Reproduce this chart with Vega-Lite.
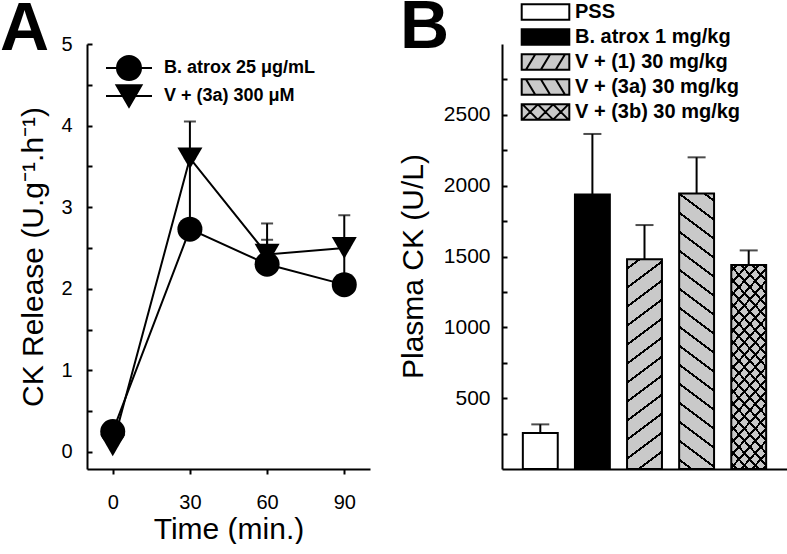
{
  "$schema": "https://vega.github.io/schema/vega-lite/v6.json",
  "padding": {"left": 0, "top": -7, "right": 0, "bottom": 0},
  "spacing": 28,
  "resolve": {"scale": {"fill": "independent", "stroke": "independent"}, "legend": {"fill": "independent", "stroke": "independent"}},
  "config": {
    "font": "Liberation Sans",
    "view": {"stroke": null},
    "axis": {"domainColor": "black", "domainWidth": 2, "tickColor": "black", "tickWidth": 2, "labelColor": "black", "titleColor": "black", "titleFontWeight": "normal", "grid": false, "labelFont": "Liberation Sans", "titleFont": "Liberation Sans"},
    "title": {"color": "black", "font": "Liberation Sans"},
    "legend": {"labelColor": "black", "labelFont": "Liberation Sans"}
  },
  "hconcat": [
    {
      "width": 283,
      "height": 425,
      "title": {"text": "A", "fontSize": 68, "fontWeight": "bold", "anchor": "start", "frame": "group", "dx": -87, "dy": 84, "offset": 0, "baseline": "alphabetic"},
      "data": {"values": [
        {"time": 0, "series": "B. atrox 25 μg/mL", "value": 0.25},
        {"time": 30, "series": "B. atrox 25 μg/mL", "value": 2.73, "upper": 3.6},
        {"time": 60, "series": "B. atrox 25 μg/mL", "value": 2.3, "upper": 2.6},
        {"time": 90, "series": "B. atrox 25 μg/mL", "value": 2.05, "upper": 2.5},
        {"time": 0, "series": "V + (3a) 300 μM", "value": 0.08},
        {"time": 30, "series": "V + (3a) 300 μM", "value": 3.6, "upper": 4.05},
        {"time": 60, "series": "V + (3a) 300 μM", "value": 2.42, "upper": 2.8},
        {"time": 90, "series": "V + (3a) 300 μM", "value": 2.5, "upper": 2.9}
      ]},
      "encoding": {
        "x": {"field": "time", "type": "quantitative", "title": "Time (min.)",
          "scale": {"domain": [-10, 100], "nice": false, "zero": false},
          "axis": {"values": [0, 30, 60, 90], "tickSize": 5, "labelFontSize": 20, "labelPadding": 18, "titleFontSize": 30, "titlePadding": 2, "labelFlush": false}},
        "y": {"field": "value", "type": "quantitative", "title": "CK Release (U.g⁻¹.h⁻¹)",
          "scale": {"domain": [-0.21, 5], "nice": false, "zero": false},
          "axis": {"values": [0, 0.5, 1, 1.5, 2, 2.5, 3, 3.5, 4, 4.5, 5], "labelExpr": "datum.value % 1 === 0 ? format(datum.value, 'd') : ''", "tickSize": -5, "labelPadding": 20, "labelFontSize": 20, "titleFontSize": 30, "titlePadding": 12, "labelFlush": false}}
      },
      "layer": [
        {"transform": [{"filter": "isValid(datum.upper)"}], "mark": {"type": "rule", "strokeWidth": 2},
          "encoding": {"y2": {"field": "upper"},
            "stroke": {"field": "series", "type": "nominal",
              "scale": {"domain": ["B. atrox 25 μg/mL", "V + (3a) 300 μM"], "range": ["black", "black"]},
              "legend": {"orient": "none", "legendX": 31, "legendY": 13, "title": null, "direction": "vertical", "padding": 0,
                "labelFontSize": 18, "labelFontWeight": "bold", "labelLimit": 300, "labelOffset": 24, "rowPadding": -3,
                "symbolSize": 400, "symbolStrokeWidth": 2, "symbolStrokeColor": "black", "symbolFillColor": "black",
                "encode": {"symbols": {"update": {
                  "shape": [{"test": "datum.value === 'B. atrox 25 μg/mL'", "value": "M-2.3,0H-1.2A1.2,1.2,0,1,1,1.2,0H2.3M1.2,0A1.2,1.2,0,1,1,-1.2,0Z"}, {"value": "M-2.3,0H2.3M-1.25,-1.08H1.25L0,1.08Z"}],
                  "fill": {"value": "black"}, "stroke": {"value": "black"}, "strokeWidth": {"value": 2}, "size": {"value": 400}, "opacity": {"value": 1}}}}}}}},
        {"transform": [{"filter": "isValid(datum.upper)"}], "mark": {"type": "tick", "orient": "horizontal", "color": "black", "size": 12, "thickness": 2}, "encoding": {"y": {"field": "upper", "type": "quantitative", "title": "CK Release (U.g⁻¹.h⁻¹)"}}},
        {"mark": {"type": "line", "stroke": "black", "strokeWidth": 2}, "encoding": {"detail": {"field": "series"}}},
        {"mark": {"type": "point", "filled": true, "color": "black", "size": 625, "opacity": 1, "strokeWidth": 0},
          "encoding": {
            "shape": {"condition": {"test": "datum.series === 'V + (3a) 300 μM'", "value": "triangle-down"}, "value": "circle"}}}
      ]
    },
    {
      "width": 285,
      "height": 425,
      "title": {"text": "B", "fontSize": 68, "fontWeight": "bold", "anchor": "start", "frame": "group", "dx": -102, "dy": 113.5, "offset": 0, "baseline": "alphabetic"},
      "data": {"values": [
        {"group": "PSS", "value": 255, "err": 315},
        {"group": "B. atrox 1 mg/kg", "value": 1938, "err": 2365},
        {"group": "V + (1) 30 mg/kg", "value": 1480, "err": 1722},
        {"group": "V + (3a) 30 mg/kg", "value": 1945, "err": 2200},
        {"group": "V + (3b) 30 mg/kg", "value": 1440, "err": 1543}
      ]},
      "encoding": {
        "x": {"field": "group", "type": "nominal", "title": null,
          "scale": {"domain": ["PSS", "B. atrox 1 mg/kg", "V + (1) 30 mg/kg", "V + (3a) 30 mg/kg", "V + (3b) 30 mg/kg"], "paddingInner": 0.33, "paddingOuter": 0.4},
          "axis": {"labels": false, "ticks": false, "title": null, "domainWidth": 2}},
        "y": {"field": "value", "type": "quantitative", "title": "Plasma CK (U/L)",
          "scale": {"domain": [0, 3000], "nice": false},
          "axis": {"values": [250, 500, 750, 1000, 1250, 1500, 1750, 2000, 2250, 2500, 2750], "labelExpr": "datum.value % 500 === 0 ? format(datum.value, 'd') : ''", "tickSize": -5, "labelPadding": 17, "labelFontSize": 21, "titleFontSize": 30, "titlePadding": 15, "titleY": 222, "labelFlush": false}}
      },
      "layer": [
        {"mark": {"type": "rule", "stroke": "black", "strokeWidth": 2}, "encoding": {"y2": {"field": "err"}}},
        {"mark": {"type": "tick", "orient": "horizontal", "color": "black", "size": 18, "thickness": 2}, "encoding": {"y": {"field": "err", "type": "quantitative", "title": "Plasma CK (U/L)"}}},
        {"mark": {"type": "bar", "stroke": "black", "strokeWidth": 2},
          "encoding": {"fill": {"field": "group", "type": "nominal",
            "scale": {"domain": ["PSS", "B. atrox 1 mg/kg", "V + (1) 30 mg/kg", "V + (3a) 30 mg/kg", "V + (3b) 30 mg/kg"], "range": ["white", "black", "#c9c9c9", "#c9c9c9", "#c9c9c9"]},
            "legend": {"orient": "none", "legendX": 33.5, "legendY": -42, "title": null, "direction": "vertical", "padding": 0,
              "labelFontSize": 20, "labelFontWeight": "bold", "labelLimit": 300, "labelOffset": 19.5, "rowPadding": 1,
              "symbolSize": 289, "symbolStrokeWidth": 2, "symbolStrokeColor": "black",
              "encode": {"symbols": {"update": {
                "shape": [
                  {"test": "datum.value === 'V + (1) 30 mg/kg'", "value": "M-2.8,-0.9H2.8V0.9H-2.8ZM-2.3,0.9L-1.2,-0.9M-0.55,0.9L0.55,-0.9M1.2,0.9L2.3,-0.9"},
                  {"test": "datum.value === 'V + (3a) 30 mg/kg'", "value": "M-2.8,-0.9H2.8V0.9H-2.8ZM-2.3,-0.9L-1.2,0.9M-0.55,-0.9L0.55,0.9M1.2,-0.9L2.3,0.9"},
                  {"test": "datum.value === 'V + (3b) 30 mg/kg'", "value": "M-2.8,-0.9H2.8V0.9H-2.8ZM-2.7,0.9L-0.9,-0.9M-2.7,-0.9L-0.9,0.9M-0.9,0.9L0.9,-0.9M-0.9,-0.9L0.9,0.9M0.9,0.9L2.7,-0.9M0.9,-0.9L2.7,0.9"},
                  {"value": "M-2.8,-0.9H2.8V0.9H-2.8Z"}],
                "stroke": {"value": "black"}, "strokeWidth": {"value": 2}, "size": {"value": 289}, "opacity": {"value": 1}}}}}}}},
        {"transform": [{"filter": "datum.group === 'V + (1) 30 mg/kg'"}],
          "mark": {"type": "bar", "strokeWidth": 0, "fill": {"gradient": "linear", "x1": 0, "y1": 0, "x2": 0.18807, "y2": 1.50244, "stops": [
            {"offset": 0, "color": "transparent"},
            {"offset": 0.02578, "color": "transparent"}, {"offset": 0.02578, "color": "black"}, {"offset": 0.03359, "color": "black"}, {"offset": 0.03359, "color": "transparent"},
            {"offset": 0.08516, "color": "transparent"}, {"offset": 0.08516, "color": "black"}, {"offset": 0.09297, "color": "black"}, {"offset": 0.09297, "color": "transparent"},
            {"offset": 0.14453, "color": "transparent"}, {"offset": 0.14453, "color": "black"}, {"offset": 0.15234, "color": "black"}, {"offset": 0.15234, "color": "transparent"},
            {"offset": 0.20391, "color": "transparent"}, {"offset": 0.20391, "color": "black"}, {"offset": 0.21172, "color": "black"}, {"offset": 0.21172, "color": "transparent"},
            {"offset": 0.26328, "color": "transparent"}, {"offset": 0.26328, "color": "black"}, {"offset": 0.27109, "color": "black"}, {"offset": 0.27109, "color": "transparent"},
            {"offset": 0.32266, "color": "transparent"}, {"offset": 0.32266, "color": "black"}, {"offset": 0.33047, "color": "black"}, {"offset": 0.33047, "color": "transparent"},
            {"offset": 0.38203, "color": "transparent"}, {"offset": 0.38203, "color": "black"}, {"offset": 0.38984, "color": "black"}, {"offset": 0.38984, "color": "transparent"},
            {"offset": 0.44141, "color": "transparent"}, {"offset": 0.44141, "color": "black"}, {"offset": 0.44922, "color": "black"}, {"offset": 0.44922, "color": "transparent"},
            {"offset": 0.50078, "color": "transparent"}, {"offset": 0.50078, "color": "black"}, {"offset": 0.50859, "color": "black"}, {"offset": 0.50859, "color": "transparent"},
            {"offset": 0.56016, "color": "transparent"}, {"offset": 0.56016, "color": "black"}, {"offset": 0.56797, "color": "black"}, {"offset": 0.56797, "color": "transparent"},
            {"offset": 0.61953, "color": "transparent"}, {"offset": 0.61953, "color": "black"}, {"offset": 0.62734, "color": "black"}, {"offset": 0.62734, "color": "transparent"},
            {"offset": 0.67891, "color": "transparent"}, {"offset": 0.67891, "color": "black"}, {"offset": 0.68672, "color": "black"}, {"offset": 0.68672, "color": "transparent"},
            {"offset": 0.73828, "color": "transparent"}, {"offset": 0.73828, "color": "black"}, {"offset": 0.74609, "color": "black"}, {"offset": 0.74609, "color": "transparent"},
            {"offset": 0.79766, "color": "transparent"}, {"offset": 0.79766, "color": "black"}, {"offset": 0.80547, "color": "black"}, {"offset": 0.80547, "color": "transparent"},
            {"offset": 0.85703, "color": "transparent"}, {"offset": 0.85703, "color": "black"}, {"offset": 0.86484, "color": "black"}, {"offset": 0.86484, "color": "transparent"},
            {"offset": 0.91641, "color": "transparent"}, {"offset": 0.91641, "color": "black"}, {"offset": 0.92422, "color": "black"}, {"offset": 0.92422, "color": "transparent"},
            {"offset": 0.97578, "color": "transparent"}, {"offset": 0.97578, "color": "black"}, {"offset": 0.98359, "color": "black"}, {"offset": 0.98359, "color": "transparent"},
            {"offset": 1, "color": "transparent"}]}}},
        {"transform": [{"filter": "datum.group === 'V + (3a) 30 mg/kg'"}],
          "mark": {"type": "bar", "strokeWidth": 0, "fill": {"gradient": "linear", "x1": 0, "y1": 1, "x2": 0.10964, "y2": -0.15093, "stops": [
            {"offset": 0, "color": "transparent"},
            {"offset": 0.02578, "color": "transparent"}, {"offset": 0.02578, "color": "black"}, {"offset": 0.03359, "color": "black"}, {"offset": 0.03359, "color": "transparent"},
            {"offset": 0.08516, "color": "transparent"}, {"offset": 0.08516, "color": "black"}, {"offset": 0.09297, "color": "black"}, {"offset": 0.09297, "color": "transparent"},
            {"offset": 0.14453, "color": "transparent"}, {"offset": 0.14453, "color": "black"}, {"offset": 0.15234, "color": "black"}, {"offset": 0.15234, "color": "transparent"},
            {"offset": 0.20391, "color": "transparent"}, {"offset": 0.20391, "color": "black"}, {"offset": 0.21172, "color": "black"}, {"offset": 0.21172, "color": "transparent"},
            {"offset": 0.26328, "color": "transparent"}, {"offset": 0.26328, "color": "black"}, {"offset": 0.27109, "color": "black"}, {"offset": 0.27109, "color": "transparent"},
            {"offset": 0.32266, "color": "transparent"}, {"offset": 0.32266, "color": "black"}, {"offset": 0.33047, "color": "black"}, {"offset": 0.33047, "color": "transparent"},
            {"offset": 0.38203, "color": "transparent"}, {"offset": 0.38203, "color": "black"}, {"offset": 0.38984, "color": "black"}, {"offset": 0.38984, "color": "transparent"},
            {"offset": 0.44141, "color": "transparent"}, {"offset": 0.44141, "color": "black"}, {"offset": 0.44922, "color": "black"}, {"offset": 0.44922, "color": "transparent"},
            {"offset": 0.50078, "color": "transparent"}, {"offset": 0.50078, "color": "black"}, {"offset": 0.50859, "color": "black"}, {"offset": 0.50859, "color": "transparent"},
            {"offset": 0.56016, "color": "transparent"}, {"offset": 0.56016, "color": "black"}, {"offset": 0.56797, "color": "black"}, {"offset": 0.56797, "color": "transparent"},
            {"offset": 0.61953, "color": "transparent"}, {"offset": 0.61953, "color": "black"}, {"offset": 0.62734, "color": "black"}, {"offset": 0.62734, "color": "transparent"},
            {"offset": 0.67891, "color": "transparent"}, {"offset": 0.67891, "color": "black"}, {"offset": 0.68672, "color": "black"}, {"offset": 0.68672, "color": "transparent"},
            {"offset": 0.73828, "color": "transparent"}, {"offset": 0.73828, "color": "black"}, {"offset": 0.74609, "color": "black"}, {"offset": 0.74609, "color": "transparent"},
            {"offset": 0.79766, "color": "transparent"}, {"offset": 0.79766, "color": "black"}, {"offset": 0.80547, "color": "black"}, {"offset": 0.80547, "color": "transparent"},
            {"offset": 0.85703, "color": "transparent"}, {"offset": 0.85703, "color": "black"}, {"offset": 0.86484, "color": "black"}, {"offset": 0.86484, "color": "transparent"},
            {"offset": 0.91641, "color": "transparent"}, {"offset": 0.91641, "color": "black"}, {"offset": 0.92422, "color": "black"}, {"offset": 0.92422, "color": "transparent"},
            {"offset": 0.97578, "color": "transparent"}, {"offset": 0.97578, "color": "black"}, {"offset": 0.98359, "color": "black"}, {"offset": 0.98359, "color": "transparent"},
            {"offset": 1, "color": "transparent"}]}}},
        {"transform": [{"filter": "datum.group === 'V + (3b) 30 mg/kg'"}],
          "mark": {"type": "bar", "strokeWidth": 0, "fill": {"gradient": "linear", "x1": 0, "y1": 0, "x2": 0.2271, "y2": 1.18186, "stops": [
            {"offset": 0, "color": "transparent"},
            {"offset": 0.018, "color": "transparent"}, {"offset": 0.018, "color": "black"}, {"offset": 0.03, "color": "black"}, {"offset": 0.03, "color": "transparent"},
            {"offset": 0.0672, "color": "transparent"}, {"offset": 0.0672, "color": "black"}, {"offset": 0.0792, "color": "black"}, {"offset": 0.0792, "color": "transparent"},
            {"offset": 0.1164, "color": "transparent"}, {"offset": 0.1164, "color": "black"}, {"offset": 0.1284, "color": "black"}, {"offset": 0.1284, "color": "transparent"},
            {"offset": 0.1656, "color": "transparent"}, {"offset": 0.1656, "color": "black"}, {"offset": 0.1776, "color": "black"}, {"offset": 0.1776, "color": "transparent"},
            {"offset": 0.2148, "color": "transparent"}, {"offset": 0.2148, "color": "black"}, {"offset": 0.2268, "color": "black"}, {"offset": 0.2268, "color": "transparent"},
            {"offset": 0.264, "color": "transparent"}, {"offset": 0.264, "color": "black"}, {"offset": 0.276, "color": "black"}, {"offset": 0.276, "color": "transparent"},
            {"offset": 0.3132, "color": "transparent"}, {"offset": 0.3132, "color": "black"}, {"offset": 0.3252, "color": "black"}, {"offset": 0.3252, "color": "transparent"},
            {"offset": 0.3624, "color": "transparent"}, {"offset": 0.3624, "color": "black"}, {"offset": 0.3744, "color": "black"}, {"offset": 0.3744, "color": "transparent"},
            {"offset": 0.4116, "color": "transparent"}, {"offset": 0.4116, "color": "black"}, {"offset": 0.4236, "color": "black"}, {"offset": 0.4236, "color": "transparent"},
            {"offset": 0.4608, "color": "transparent"}, {"offset": 0.4608, "color": "black"}, {"offset": 0.4728, "color": "black"}, {"offset": 0.4728, "color": "transparent"},
            {"offset": 0.51, "color": "transparent"}, {"offset": 0.51, "color": "black"}, {"offset": 0.522, "color": "black"}, {"offset": 0.522, "color": "transparent"},
            {"offset": 0.5592, "color": "transparent"}, {"offset": 0.5592, "color": "black"}, {"offset": 0.5712, "color": "black"}, {"offset": 0.5712, "color": "transparent"},
            {"offset": 0.6084, "color": "transparent"}, {"offset": 0.6084, "color": "black"}, {"offset": 0.6204, "color": "black"}, {"offset": 0.6204, "color": "transparent"},
            {"offset": 0.6576, "color": "transparent"}, {"offset": 0.6576, "color": "black"}, {"offset": 0.6696, "color": "black"}, {"offset": 0.6696, "color": "transparent"},
            {"offset": 0.7068, "color": "transparent"}, {"offset": 0.7068, "color": "black"}, {"offset": 0.7188, "color": "black"}, {"offset": 0.7188, "color": "transparent"},
            {"offset": 0.756, "color": "transparent"}, {"offset": 0.756, "color": "black"}, {"offset": 0.768, "color": "black"}, {"offset": 0.768, "color": "transparent"},
            {"offset": 0.8052, "color": "transparent"}, {"offset": 0.8052, "color": "black"}, {"offset": 0.8172, "color": "black"}, {"offset": 0.8172, "color": "transparent"},
            {"offset": 0.8544, "color": "transparent"}, {"offset": 0.8544, "color": "black"}, {"offset": 0.8664, "color": "black"}, {"offset": 0.8664, "color": "transparent"},
            {"offset": 0.9036, "color": "transparent"}, {"offset": 0.9036, "color": "black"}, {"offset": 0.9156, "color": "black"}, {"offset": 0.9156, "color": "transparent"},
            {"offset": 0.9528, "color": "transparent"}, {"offset": 0.9528, "color": "black"}, {"offset": 0.9648, "color": "black"}, {"offset": 0.9648, "color": "transparent"},
            {"offset": 1, "color": "transparent"}]}}},
        {"transform": [{"filter": "datum.group === 'V + (3b) 30 mg/kg'"}],
          "mark": {"type": "bar", "strokeWidth": 0, "fill": {"gradient": "linear", "x1": 0, "y1": 1, "x2": 0.2271, "y2": -0.18186, "stops": [
            {"offset": 0, "color": "transparent"},
            {"offset": 0.018, "color": "transparent"}, {"offset": 0.018, "color": "black"}, {"offset": 0.03, "color": "black"}, {"offset": 0.03, "color": "transparent"},
            {"offset": 0.0672, "color": "transparent"}, {"offset": 0.0672, "color": "black"}, {"offset": 0.0792, "color": "black"}, {"offset": 0.0792, "color": "transparent"},
            {"offset": 0.1164, "color": "transparent"}, {"offset": 0.1164, "color": "black"}, {"offset": 0.1284, "color": "black"}, {"offset": 0.1284, "color": "transparent"},
            {"offset": 0.1656, "color": "transparent"}, {"offset": 0.1656, "color": "black"}, {"offset": 0.1776, "color": "black"}, {"offset": 0.1776, "color": "transparent"},
            {"offset": 0.2148, "color": "transparent"}, {"offset": 0.2148, "color": "black"}, {"offset": 0.2268, "color": "black"}, {"offset": 0.2268, "color": "transparent"},
            {"offset": 0.264, "color": "transparent"}, {"offset": 0.264, "color": "black"}, {"offset": 0.276, "color": "black"}, {"offset": 0.276, "color": "transparent"},
            {"offset": 0.3132, "color": "transparent"}, {"offset": 0.3132, "color": "black"}, {"offset": 0.3252, "color": "black"}, {"offset": 0.3252, "color": "transparent"},
            {"offset": 0.3624, "color": "transparent"}, {"offset": 0.3624, "color": "black"}, {"offset": 0.3744, "color": "black"}, {"offset": 0.3744, "color": "transparent"},
            {"offset": 0.4116, "color": "transparent"}, {"offset": 0.4116, "color": "black"}, {"offset": 0.4236, "color": "black"}, {"offset": 0.4236, "color": "transparent"},
            {"offset": 0.4608, "color": "transparent"}, {"offset": 0.4608, "color": "black"}, {"offset": 0.4728, "color": "black"}, {"offset": 0.4728, "color": "transparent"},
            {"offset": 0.51, "color": "transparent"}, {"offset": 0.51, "color": "black"}, {"offset": 0.522, "color": "black"}, {"offset": 0.522, "color": "transparent"},
            {"offset": 0.5592, "color": "transparent"}, {"offset": 0.5592, "color": "black"}, {"offset": 0.5712, "color": "black"}, {"offset": 0.5712, "color": "transparent"},
            {"offset": 0.6084, "color": "transparent"}, {"offset": 0.6084, "color": "black"}, {"offset": 0.6204, "color": "black"}, {"offset": 0.6204, "color": "transparent"},
            {"offset": 0.6576, "color": "transparent"}, {"offset": 0.6576, "color": "black"}, {"offset": 0.6696, "color": "black"}, {"offset": 0.6696, "color": "transparent"},
            {"offset": 0.7068, "color": "transparent"}, {"offset": 0.7068, "color": "black"}, {"offset": 0.7188, "color": "black"}, {"offset": 0.7188, "color": "transparent"},
            {"offset": 0.756, "color": "transparent"}, {"offset": 0.756, "color": "black"}, {"offset": 0.768, "color": "black"}, {"offset": 0.768, "color": "transparent"},
            {"offset": 0.8052, "color": "transparent"}, {"offset": 0.8052, "color": "black"}, {"offset": 0.8172, "color": "black"}, {"offset": 0.8172, "color": "transparent"},
            {"offset": 0.8544, "color": "transparent"}, {"offset": 0.8544, "color": "black"}, {"offset": 0.8664, "color": "black"}, {"offset": 0.8664, "color": "transparent"},
            {"offset": 0.9036, "color": "transparent"}, {"offset": 0.9036, "color": "black"}, {"offset": 0.9156, "color": "black"}, {"offset": 0.9156, "color": "transparent"},
            {"offset": 0.9528, "color": "transparent"}, {"offset": 0.9528, "color": "black"}, {"offset": 0.9648, "color": "black"}, {"offset": 0.9648, "color": "transparent"},
            {"offset": 1, "color": "transparent"}]}}}
      ]
    }
  ]
}
